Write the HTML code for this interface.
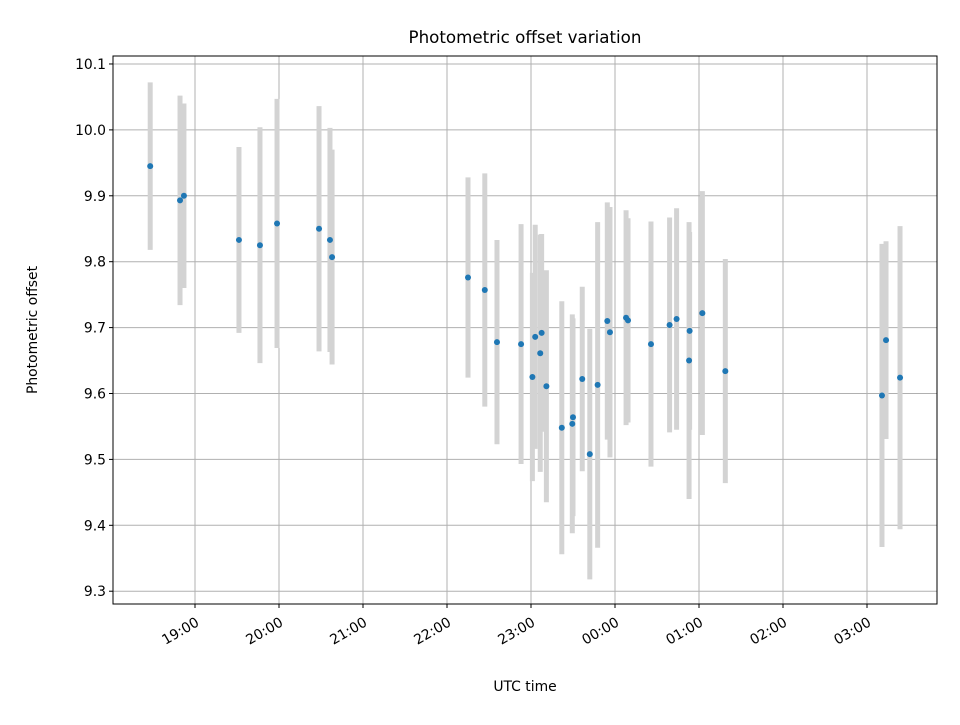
<!DOCTYPE html>
<html><head><meta charset="utf-8"><style>
body{margin:0;background:#fff;}
svg text{font-family:"DejaVu Sans","Liberation Sans",sans-serif;fill:#000;}
</style></head><body>
<svg id="chart" width="960" height="720" xmlns="http://www.w3.org/2000/svg">
<rect width="960" height="720" fill="#fff"/>
<text x="525" y="43" font-size="16.7" text-anchor="middle">Photometric offset variation</text>
<g id="grid"></g><g id="bars"></g><g id="pts"></g><g id="ticks"></g>
<rect x="113" y="56" width="824" height="548" fill="none" stroke="#000" stroke-width="1"/>
<text x="525" y="691" font-size="13.9" text-anchor="middle">UTC time</text>
<text x="37" y="330" font-size="13.9" text-anchor="middle" transform="rotate(-90 37 330)">Photometric offset</text>
</svg>
<script>
// minutes after 19:00 UTC
const times=[-32,-10.7,-7.9,31.4,46.4,58.6,88.6,96.4,97.9,195,207,215.7,232.9,241,243,246.6,247.6,251,262,269.5,270,276.6,282,287.6,294.5,296.4,307.9,309.3,325.7,339,344,352.9,353.3,362.4,378.8,490.7,493.6,503.6];
const offsets=[9.945,9.893,9.900,9.833,9.825,9.858,9.850,9.833,9.807,9.776,9.757,9.678,9.675,9.625,9.686,9.661,9.692,9.611,9.548,9.554,9.564,9.622,9.508,9.613,9.710,9.693,9.715,9.711,9.675,9.704,9.713,9.650,9.695,9.722,9.634,9.597,9.681,9.624];
const errors=[0.127,0.159,0.14,0.141,0.179,0.189,0.186,0.17,0.163,0.152,0.177,0.155,0.182,0.158,0.17,0.18,0.15,0.176,0.192,0.166,0.15,0.14,0.19,0.247,0.18,0.19,0.163,0.155,0.186,0.163,0.168,0.21,0.15,0.185,0.17,0.23,0.15,0.23];
const yTicks=[9.3,9.4,9.5,9.6,9.7,9.8,9.9,10.0,10.1];
const xTickMin=[0,60,120,180,240,300,360,420,480];
const xTickLabels=["19:00","20:00","21:00","22:00","23:00","00:00","01:00","02:00","03:00"];
const X0=113,X1=937,Y0=604,Y1=56,TMIN=-58.57,TMAX=530,VMIN=9.2806,VMAX=10.1121;
const sx=t=>X0+(t-TMIN)/(TMAX-TMIN)*(X1-X0);
const sy=v=>Y0-(v-VMIN)/(VMAX-VMIN)*(Y0-Y1);
const NS="http://www.w3.org/2000/svg";
function mk(tag,parent,attrs){const e=document.createElementNS(NS,tag);for(const k in attrs)e.setAttribute(k,attrs[k]);document.getElementById(parent).appendChild(e);return e;}
yTicks.forEach((v,i)=>{
 const y=sy(v);
 const g=mk('line','grid',{x1:X0,x2:X1,y1:y,y2:y,stroke:'#b0b0b0','stroke-width':1});
 
 
 const tk=mk('line','ticks',{x1:X0-4,x2:X0,y1:y,y2:y,stroke:'#000'});
 
 
 const t=mk('text','ticks',{x:X0-7,y:y+5,'font-size':13.9,'text-anchor':'end'});
 t.textContent=v.toFixed(1);
 
 
});
xTickMin.forEach((m,i)=>{
 const x=sx(m);
 const g=mk('line','grid',{x1:x,x2:x,y1:Y1,y2:Y0,stroke:'#b0b0b0','stroke-width':1});
 
 
 const tk=mk('line','ticks',{x1:x,x2:x,y1:Y0,y2:Y0+4,stroke:'#000'});
 
 
 const t=mk('text','ticks',{x:0,y:0,'font-size':13.9,'text-anchor':'end',transform:`translate(${x+5} ${Y0+21}) rotate(-30)`});
 t.textContent=xTickLabels[i];
 
 
});
times.forEach((t,i)=>{
 const x=sx(t);
 const b=mk('line','bars',{x1:x,x2:x,y1:sy(offsets[i]+errors[i]),y2:sy(offsets[i]-errors[i]),stroke:'#d3d3d3','stroke-width':5});
 
 
 const c=mk('circle','pts',{cx:x,cy:sy(offsets[i]),r:3,fill:'#1f77b4'});
 
 
});
</script>
</body></html>
